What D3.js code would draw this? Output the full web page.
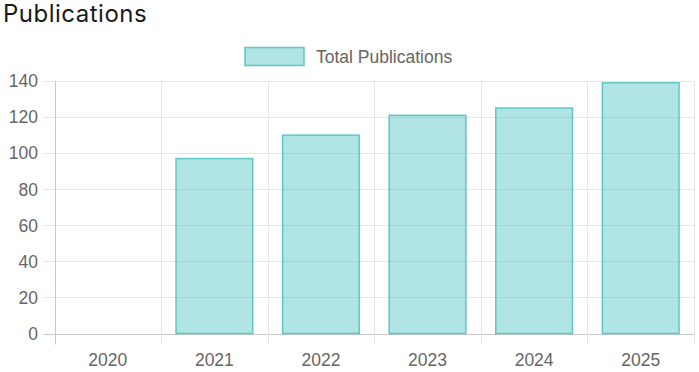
<!DOCTYPE html>
<html>
<head>
<meta charset="utf-8">
<script src="https://cdn.jsdelivr.net/npm/d3@7"></script>
<style>
  body { margin: 0; background: #fff; }
  svg { display: block; }
</style>
</head>
<body>
<div id="chart"></div>
<script>
// data
var years = ["2020", "2021", "2022", "2023", "2024", "2025"];
var totals = [0, 97, 110, 121, 125, 139];
var yTicks = [0, 20, 40, 60, 80, 100, 120, 140];
var seriesName = "Total Publications";

var width = 699, height = 372;
var plot = {left: 54.5, right: 694, top: 81, bottom: 333.5};
var labelFont = "Liberation Sans, Arial, sans-serif";

var svg = d3.select("#chart").append("svg")
    .attr("width", width)
    .attr("height", height);

svg.append("text")
    .attr("x", 3)
    .attr("y", 22)
    .style("font-family", "Inter, sans-serif")
    .style("font-size", "24px")
    .style("letter-spacing", "0.5px")
    .style("fill", "#1a1a1a")
    .text("Publications");

var x = d3.scaleBand().domain(years).range([plot.left, plot.right]);
var y = d3.scaleLinear().domain([0, 140]).range([plot.bottom, plot.top]);

// grid
var grid = svg.append("g");
grid.selectAll(".hg").data(yTicks).enter().append("line")
    .attr("x1", plot.left - 11).attr("x2", plot.right)
    .attr("y1", function(d) { return Math.round(y(d)) + 0.5; })
    .attr("y2", function(d) { return Math.round(y(d)) + 0.5; })
    .attr("stroke", function(d) { return d === 0 ? "#c8c8c8" : "#e6e6e6"; })
    .attr("stroke-width", 1);

var vlines = years.map(function(d) { return x(d); }).concat([plot.right]);
grid.selectAll(".vg").data(vlines).enter().append("line")
    .attr("x1", function(d) { return Math.round(d) + 0.5; })
    .attr("x2", function(d) { return Math.round(d) + 0.5; })
    .attr("y1", plot.top).attr("y2", plot.bottom + 11)
    .attr("stroke", function(d, i) { return i === 0 ? "#c8c8c8" : "#e6e6e6"; })
    .attr("stroke-width", 1);

// bars
var bw = x.bandwidth() * 0.8 * 0.9;
svg.selectAll(".bar").data(years).enter().append("rect")
    .attr("class", "bar")
    .attr("x", function(d) { return x(d) + (x.bandwidth() - bw) / 2; })
    .attr("width", bw)
    .attr("y", function(d, i) { return y(totals[i]); })
    .attr("height", function(d, i) { return y(0) - y(totals[i]); })
    .attr("fill", "rgba(75,192,192,0.43)")
    .attr("stroke", "rgba(75,192,192,0.85)")
    .attr("stroke-width", 1.5)
    .style("display", function(d, i) { return totals[i] > 0 ? null : "none"; });

// y labels
svg.selectAll(".yl").data(yTicks).enter().append("text")
    .attr("x", 38)
    .attr("y", function(d) { return y(d); })
    .attr("dy", "0.36em")
    .attr("text-anchor", "end")
    .style("font-family", labelFont)
    .style("font-size", "17.5px")
    .style("fill", "#666")
    .text(function(d) { return d; });

// x labels
svg.selectAll(".xl").data(years).enter().append("text")
    .attr("x", function(d) { return x(d) + x.bandwidth() / 2; })
    .attr("y", 366)
    .attr("text-anchor", "middle")
    .style("font-family", labelFont)
    .style("font-size", "17.5px")
    .style("fill", "#666")
    .text(function(d) { return d; });

// legend
var legend = svg.append("g");
legend.append("rect")
    .attr("x", 245).attr("y", 47.5)
    .attr("width", 59).attr("height", 18)
    .attr("fill", "rgba(75,192,192,0.43)")
    .attr("stroke", "rgba(75,192,192,0.85)")
    .attr("stroke-width", 1.5);
legend.append("text")
    .attr("x", 316)
    .attr("y", 56.5)
    .attr("dy", "0.36em")
    .style("font-family", labelFont)
    .style("font-size", "17.5px")
    .style("fill", "#666")
    .text(seriesName);
</script>
</body>
</html>
